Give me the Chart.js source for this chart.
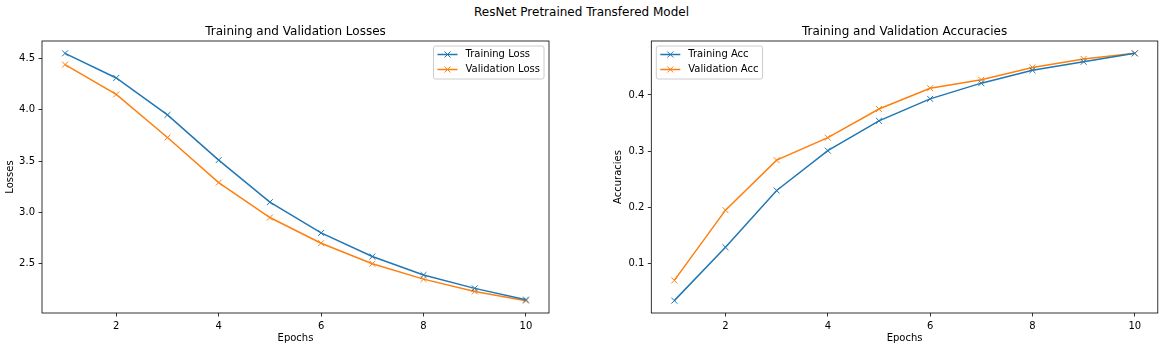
<!DOCTYPE html>
<html>
<head>
<meta charset="utf-8">
<script src="https://cdn.jsdelivr.net/npm/chart.js@4.4.0/dist/chart.umd.min.js"></script>
<style>
  body { margin: 0; background: #fff; }
  #wrap { position: relative; width: 1163px; height: 349px; font-family: 'DejaVu Sans'; }
  #suptitle { position: absolute; left: 0; top: 5px; width: 1163px; text-align: center; font-size: 12px; line-height: 14px; color: #000; }
  canvas { position: absolute; top: 0; }
</style>
</head>
<body>
<div id="wrap">
  <div id="suptitle">ResNet Pretrained Transfered Model</div>
  <canvas id="loss" width="581" height="349" style="left:0"></canvas>
  <canvas id="acc" width="582" height="349" style="left:581px"></canvas>
</div>
<script>
const epochs = [1, 2, 3, 4, 5, 6, 7, 8, 9, 10];
const trainLoss = [4.55, 4.31, 3.95, 3.51, 3.10, 2.80, 2.57, 2.39, 2.26, 2.15];
const valLoss = [4.44, 4.15, 3.73, 3.29, 2.95, 2.70, 2.50, 2.35, 2.23, 2.14];
const trainAcc = [0.034, 0.129, 0.230, 0.301, 0.354, 0.393, 0.421, 0.444, 0.459, 0.474];
const valAcc = [0.070, 0.195, 0.284, 0.324, 0.375, 0.412, 0.427, 0.449, 0.464, 0.474];

const xTicks = [2, 4, 6, 8, 10];
const lossTicks = [2.5, 3.0, 3.5, 4.0, 4.5];
const accTicks = [0.1, 0.2, 0.3, 0.4];

const blue = '#1f77b4';
const orange = '#ff7f0e';
const font = { family: 'DejaVu Sans', size: 10 };

// box round the plot area, like the mpl spines
const frame = {
  id: 'frame',
  afterDatasetsDraw(chart) {
    const { ctx, chartArea: a } = chart;
    ctx.save();
    ctx.strokeStyle = '#000';
    ctx.lineWidth = 0.8;
    ctx.strokeRect(a.left, a.top, a.right - a.left, a.bottom - a.top);
    ctx.restore();
  },
};

// mpl style legend with a frame
const mplLegend = {
  id: 'mplLegend',
  afterDraw(chart, args, o) {
    const { ctx, chartArea: a } = chart;
    const ds = chart.data.datasets;
    ctx.save();
    ctx.font = '10px "DejaVu Sans"';
    const tw = Math.max(...ds.map((d) => ctx.measureText(d.label).width));
    const w = 32 + tw + 4;
    const h = 33;
    const x0 = o.align === 'right' ? a.right - 5 - w : a.left + 5;
    const y0 = a.top + 5;
    ctx.beginPath();
    ctx.roundRect(x0, y0, w, h, 2);
    ctx.fillStyle = 'rgba(255,255,255,0.8)';
    ctx.fill();
    ctx.strokeStyle = '#cccccc';
    ctx.lineWidth = 1;
    ctx.stroke();
    ds.forEach((d, i) => {
      const cy = y0 + 8.5 + i * 15;
      ctx.strokeStyle = d.borderColor;
      ctx.lineWidth = 1.5;
      ctx.beginPath();
      ctx.moveTo(x0 + 4, cy);
      ctx.lineTo(x0 + 24, cy);
      ctx.stroke();
      ctx.lineWidth = 1;
      ctx.beginPath();
      ctx.moveTo(x0 + 11, cy - 3);
      ctx.lineTo(x0 + 17, cy + 3);
      ctx.moveTo(x0 + 11, cy + 3);
      ctx.lineTo(x0 + 17, cy - 3);
      ctx.stroke();
      ctx.fillStyle = '#000';
      ctx.textBaseline = 'middle';
      ctx.fillText(d.label, x0 + 32, cy);
    });
    ctx.restore();
  },
};

const series = (label, ys, color) => ({
  label,
  data: epochs.map((e, i) => ({ x: e, y: ys[i] })),
  borderColor: color,
  backgroundColor: color,
  borderWidth: 1.5,
  pointStyle: 'crossRot',
  pointRadius: 4.2,
  pointBorderColor: color,
  pointBorderWidth: 1,
  tension: 0,
  fill: false,
});

const axisGrid = { display: true, drawOnChartArea: false, drawTicks: true, tickLength: 3.5, color: '#000', lineWidth: 0.8 };

const makeChart = (id, cfg) => {
  return new Chart(document.getElementById(id).getContext('2d'), {
    type: 'line',
    data: { datasets: cfg.datasets },
    options: {
      responsive: false,
      animation: false,
      events: [],
      layout: { padding: { left: 0, right: cfg.padRight, top: 0, bottom: 0 } },
      plugins: {
        legend: { display: false },
        tooltip: { enabled: false },
        title: {
          display: true,
          text: cfg.title,
          fullSize: false,
          color: '#000',
          font: { family: 'DejaVu Sans', size: 12, weight: 'normal' },
          padding: { top: 25, bottom: 1.6 },
        },
        mplLegend: { align: cfg.legendAlign },
      },
      scales: {
        x: {
          type: 'linear',
          min: 0.55,
          max: 10.45,
          afterBuildTicks: (s) => {
            s.ticks = xTicks.map((v) => ({ value: v }));
          },
          afterFit: (s) => {
            s.height = 36;
          },
          grid: axisGrid,
          border: { display: false },
          ticks: { font, color: '#000', padding: 3.5, maxRotation: 0, callback: (v) => String(v) },
          title: { display: true, text: 'Epochs', color: '#000', font, padding: { top: 0, bottom: 5 } },
        },
        y: {
          type: 'linear',
          min: cfg.yRange[0],
          max: cfg.yRange[1],
          afterBuildTicks: (s) => {
            s.ticks = cfg.yTicks.map((v) => ({ value: v }));
          },
          afterFit: (s) => {
            s.width = cfg.yWidth;
          },
          grid: axisGrid,
          border: { display: false },
          ticks: { font, color: '#000', padding: 3.5, callback: (v) => v.toFixed(1) },
          title: { display: true, text: cfg.yLabel, color: '#000', font, padding: { top: cfg.yTitlePad, bottom: 0 } },
        },
      },
    },
    plugins: [frame, mplLegend],
  });
};

makeChart('loss', {
  title: 'Training and Validation Losses',
  yLabel: 'Losses',
  datasets: [series('Training Loss', trainLoss, blue), series('Validation Loss', valLoss, orange)],
  yRange: [2.02, 4.67],
  yTicks: lossTicks,
  yWidth: 42,
  yTitlePad: 4,
  padRight: 32,
  legendAlign: 'right',
});

makeChart('acc', {
  title: 'Training and Validation Accuracies',
  yLabel: 'Accuracies',
  datasets: [series('Training Acc', trainAcc, blue), series('Validation Acc', valAcc, orange)],
  yRange: [0.012, 0.496],
  yTicks: accTicks,
  yWidth: 70.3,
  yTitlePad: 31,
  padRight: 4.7,
  legendAlign: 'left',
});
</script>
</body>
</html>
